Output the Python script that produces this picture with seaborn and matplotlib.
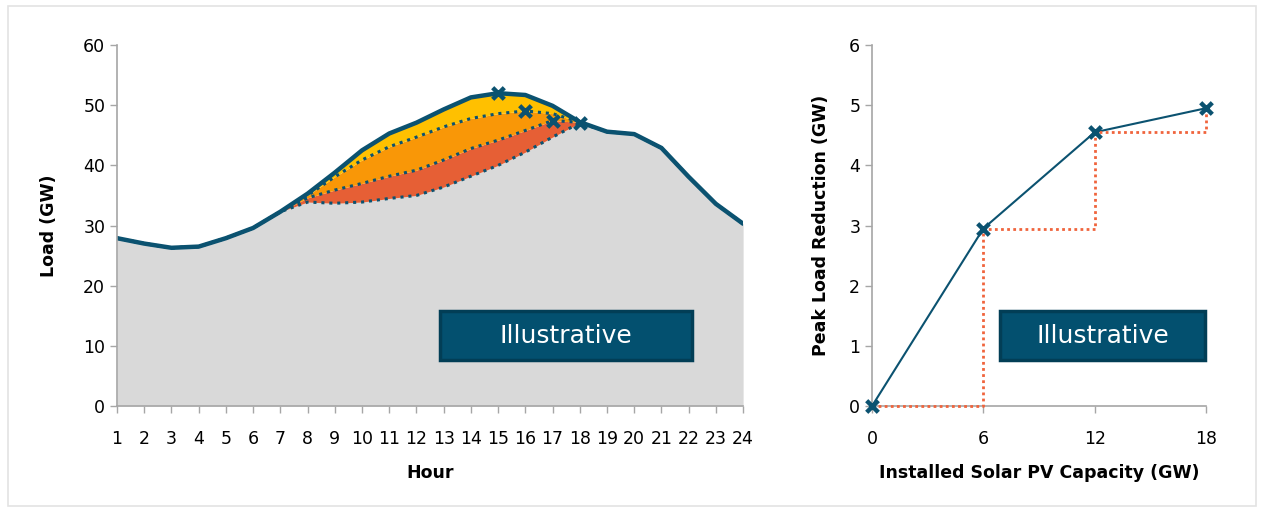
import matplotlib
matplotlib.use("Agg")
import matplotlib.pyplot as plt
from matplotlib.patches import Rectangle
import seaborn as sns
import pandas as pd

# Datos: carga horaria (GW) y escenarios con FV solar
hours = list(range(1, 25))
base_load = [27.9, 27.0, 26.3, 26.5, 27.9, 29.6, 32.3, 35.3, 38.8, 42.5, 45.3, 47.1,
             49.3, 51.3, 52.0, 51.7, 49.9, 47.2, 45.6, 45.2, 42.9, 38.1, 33.6, 30.3]
net_load_6gw = [27.9, 27.0, 26.3, 26.5, 27.9, 29.6, 32.3, 35.0, 38.1, 40.9, 43.1, 44.7,
                46.4, 47.8, 48.6, 49.05, 48.6, 47.2, 45.6, 45.2, 42.9, 38.1, 33.6, 30.3]
net_load_12gw = [27.9, 27.0, 26.3, 26.5, 27.9, 29.6, 32.3, 34.6, 35.9, 37.0, 38.2, 39.2,
                 40.9, 42.8, 44.2, 45.8, 47.45, 47.15, 45.6, 45.2, 42.9, 38.1, 33.6, 30.3]
net_load_18gw = [27.9, 27.0, 26.3, 26.5, 27.9, 29.6, 32.3, 33.9, 33.7, 33.9, 34.5, 35.0,
                 36.4, 38.2, 40.0, 42.2, 44.7, 47.05, 45.6, 45.2, 42.9, 38.1, 33.6, 30.3]
peak_hours = [15, 16, 17, 18]
peak_loads = [52.0, 49.05, 47.45, 47.05]

pv_capacity = [0, 6, 12, 18]
peak_reduction = [0, 2.95, 4.55, 4.95]

df = pd.DataFrame({'Hour': hours, 'Base': base_load, 'PV6': net_load_6gw,
                   'PV12': net_load_12gw, 'PV18': net_load_18gw})
df_pv = pd.DataFrame({'Capacity': pv_capacity, 'Reduction': peak_reduction})

sns.set_theme(style="white")
plt.rcParams['font.family'] = ['DejaVu Sans']

teal = '#0B5270'
box_col = '#03506F'
grey_axis = '#A6A6A6'

fig = plt.figure(figsize=(12.64, 5.12), dpi=100)
fig.patches.append(Rectangle((0.006, 0.012), 0.988, 0.976, transform=fig.transFigure,
                             fill=False, edgecolor='#E3E3E3', linewidth=1.2))

ax1 = fig.add_axes([0.0926, 0.207, 0.4953, 0.705])
ax2 = fig.add_axes([0.6899, 0.207, 0.2642, 0.705])

# Grafico 1: curva de carga
ax1.fill_between(df['Hour'], 0, df['PV18'], color='#D9D9D9', linewidth=0)
ax1.fill_between(df['Hour'], df['PV18'], df['PV12'], color='#E65F35', linewidth=0)
ax1.fill_between(df['Hour'], df['PV12'], df['PV6'], color='#F99707', linewidth=0)
ax1.fill_between(df['Hour'], df['PV6'], df['Base'], color='#FFC000', linewidth=0)

dots = (0, (1, 1.6))
for col in ['PV18', 'PV12', 'PV6']:
    sns.lineplot(data=df, x='Hour', y=col, ax=ax1, color=teal, linewidth=2.2,
                 linestyle=dots)
sns.lineplot(data=df, x='Hour', y='Base', ax=ax1, color=teal, linewidth=3.2)
sns.scatterplot(x=peak_hours, y=peak_loads, ax=ax1, marker='x', s=70, linewidth=3.2,
                color=teal, zorder=5, clip_on=False)

ax1.set_xlim(1, 24)
ax1.set_ylim(0, 60)
ax1.set_xticks(hours)
ax1.set_yticks(range(0, 61, 10))
ax1.set_xlabel('Hour', fontsize=12.5, fontweight='bold', labelpad=12, color='black')
ax1.set_ylabel('Load (GW)', fontsize=12.5, fontweight='bold', labelpad=18, color='black')

# Grafico 2: reduccion de carga pico
sns.lineplot(data=df_pv, x='Capacity', y='Reduction', ax=ax2, color='#F0643C',
             linewidth=2, linestyle=(0, (1, 1.2)), drawstyle='steps-post',
             zorder=4, clip_on=False)
sns.lineplot(data=df_pv, x='Capacity', y='Reduction', ax=ax2, color=teal, linewidth=1.5)
sns.scatterplot(data=df_pv, x='Capacity', y='Reduction', ax=ax2, marker='x', s=70,
                linewidth=3.2, color=teal, zorder=5, clip_on=False)

ax2.set_xlim(0, 18)
ax2.set_ylim(0, 6)
ax2.set_xticks(pv_capacity)
ax2.set_yticks(range(0, 7))
ax2.set_xlabel('Installed Solar PV Capacity (GW)', fontsize=12.5, fontweight='bold',
               labelpad=12, color='black')
ax2.set_ylabel('Peak Load Reduction (GW)', fontsize=12.5, fontweight='bold',
               labelpad=14, color='black')

for ax in [ax1, ax2]:
    for s in ['top', 'right']:
        ax.spines[s].set_visible(False)
    for s in ['left', 'bottom']:
        ax.spines[s].set_color(grey_axis)
        ax.spines[s].set_linewidth(1.2)
        ax.spines[s].set_zorder(2)
    ax.tick_params(axis='both', direction='out', length=5, width=1, color=grey_axis,
                   labelsize=12.5, labelcolor='black', bottom=True, left=True)
    ax.tick_params(axis='x', pad=12)

# Cajas "Illustrative"
for ax, (x0, x1) in [(ax1, (0.516, 0.918)), (ax2, (0.383, 0.997))]:
    ax.add_patch(Rectangle((x0, 0.127), x1 - x0, 0.136, transform=ax.transAxes,
                           facecolor=box_col, edgecolor='#023E56', linewidth=2.5,
                           zorder=6, clip_on=False))
    ax.text((x0 + x1) / 2, 0.195, 'Illustrative', transform=ax.transAxes, color='white',
            fontsize=18, ha='center', va='center', zorder=7)

fig.savefig('out.png', dpi=100)
